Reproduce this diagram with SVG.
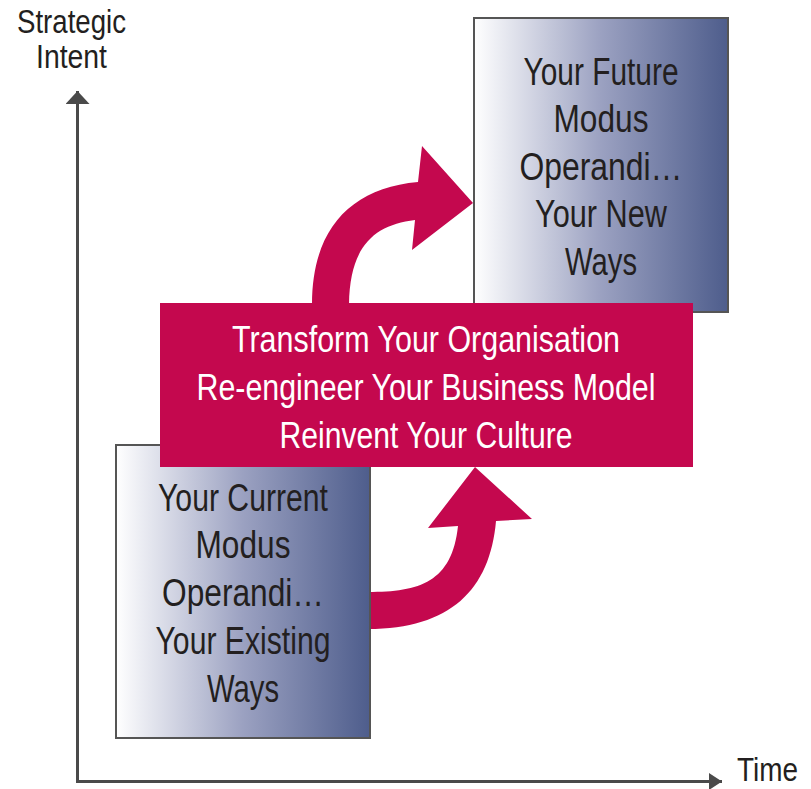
<svg xmlns="http://www.w3.org/2000/svg" width="811" height="789" viewBox="0 0 811 789">
  <defs>
    <linearGradient id="boxGrad" x1="0" y1="0" x2="1" y2="0">
      <stop offset="0" stop-color="#ffffff"/>
      <stop offset="0.5" stop-color="#9ba1c1"/>
      <stop offset="1" stop-color="#4e5d8c"/>
    </linearGradient>
    <marker id="axisHeadV" markerWidth="14" markerHeight="24" refX="13" refY="12" orient="auto" markerUnits="userSpaceOnUse">
      <path d="M0,0 L13,12 L0,24 Z" fill="#4a4a4a"/>
    </marker>
    <marker id="axisHeadH" markerWidth="14" markerHeight="17" refX="13" refY="8.5" orient="auto" markerUnits="userSpaceOnUse">
      <path d="M0,0 L13,8.5 L0,17 Z" fill="#4a4a4a"/>
    </marker>
  </defs>
  <style>
    .axis { stroke: #4a4a4a; stroke-width: 3; fill: none; }
    .lbl { font-family: "Liberation Sans", Arial, sans-serif; font-size: 34px; fill: #231f20; }
    .box { fill: url(#boxGrad); stroke: #555555; stroke-width: 2; }
    .boxtxt { font-family: "Liberation Sans", Arial, sans-serif; font-size: 38px; fill: #231f20; text-anchor: middle; }
    .red { fill: #c4084e; }
    .redtxt { font-family: "Liberation Sans", Arial, sans-serif; font-size: 37px; fill: #ffffff; text-anchor: middle; }
  </style>
  <rect width="811" height="789" fill="#ffffff"/>

  <g id="axes">
    <path class="axis" d="M77.5,781.5 L77.5,91" marker-end="url(#axisHeadV)"/>
    <path class="axis" d="M76,781.5 L722,781.5" marker-end="url(#axisHeadH)"/>
    <text class="lbl" x="17" y="33" textLength="109" lengthAdjust="spacingAndGlyphs">Strategic</text>
    <text class="lbl" x="36" y="68" textLength="71" lengthAdjust="spacingAndGlyphs">Intent</text>
    <text class="lbl" x="737" y="781" font-size="30" textLength="61" lengthAdjust="spacingAndGlyphs">Time</text>
  </g>

  <g id="connectors">
    <path class="red" d="M312,304 C312,230 350,188 418,182 L422,146 L473,203 L412,250 L415,220 C375,225 350,245 349,304 Z"/>
    <path class="red" d="M368,592 C420,592 452,582 458,526 L428,528 L475,467 L532,519 L496,521 C490,590 450,629 368,629 Z"/>
  </g>

  <g id="future">
    <rect class="box" x="474" y="18" width="254" height="294"/>
    <text class="boxtxt" x="601" y="85" textLength="155" lengthAdjust="spacingAndGlyphs">Your Future</text>
    <text class="boxtxt" x="601" y="132" textLength="95" lengthAdjust="spacingAndGlyphs">Modus</text>
    <text class="boxtxt" x="601" y="180" textLength="163" lengthAdjust="spacingAndGlyphs">Operandi…</text>
    <text class="boxtxt" x="601" y="227" textLength="132" lengthAdjust="spacingAndGlyphs">Your New</text>
    <text class="boxtxt" x="601" y="275" textLength="72" lengthAdjust="spacingAndGlyphs">Ways</text>
  </g>

  <g id="current">
    <rect class="box" x="116" y="445" width="254" height="293"/>
    <text class="boxtxt" x="243" y="511" textLength="170" lengthAdjust="spacingAndGlyphs">Your Current</text>
    <text class="boxtxt" x="243" y="558" textLength="95" lengthAdjust="spacingAndGlyphs">Modus</text>
    <text class="boxtxt" x="243" y="606" textLength="162" lengthAdjust="spacingAndGlyphs">Operandi…</text>
    <text class="boxtxt" x="243" y="654" textLength="175" lengthAdjust="spacingAndGlyphs">Your Existing</text>
    <text class="boxtxt" x="243" y="702" textLength="72" lengthAdjust="spacingAndGlyphs">Ways</text>
  </g>

  <g id="transform">
    <rect class="red" x="160" y="303" width="533" height="164"/>
    <text class="redtxt" x="426" y="352" textLength="388" lengthAdjust="spacingAndGlyphs">Transform Your Organisation</text>
    <text class="redtxt" x="426" y="400" textLength="459" lengthAdjust="spacingAndGlyphs">Re-engineer Your Business Model</text>
    <text class="redtxt" x="426" y="448" textLength="293" lengthAdjust="spacingAndGlyphs">Reinvent Your Culture</text>
  </g>
</svg>
